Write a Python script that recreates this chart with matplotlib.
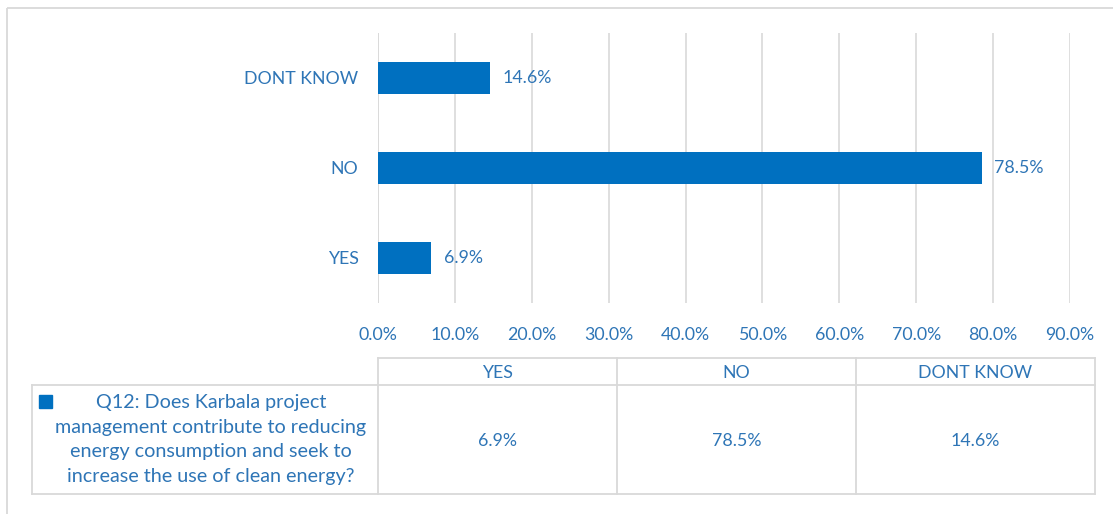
import matplotlib
matplotlib.use("Agg")
import matplotlib.pyplot as plt
from matplotlib.patches import Rectangle

categories = ["YES", "NO", "DONT KNOW"]
values = [0.069, 0.785, 0.146]
xticks = [0.0, 0.1, 0.2, 0.3, 0.4, 0.5, 0.6, 0.7, 0.8, 0.9]
series_name = ("Q12: Does Karbala project\nmanagement contribute to reducing\n"
               "energy consumption and seek to\nincrease the use of clean energy?")

BAR = "#0070C0"
TXT = "#2E75B6"
GRID = "#D9D9D9"
FONT = "Lato"
FS = 12.8

W, H = 1113, 514
fig = plt.figure(figsize=(W / 100, H / 100), dpi=100)

# overlay in pixel coordinates for the frame and data table
ov = fig.add_axes([0, 0, 1, 1])
ov.set_xlim(0, W)
ov.set_ylim(H, 0)
ov.axis("off")
ov.add_patch(Rectangle((7, 8), W + 20, H + 20, fill=False, ec=GRID, lw=1.3))

x0, x1, ytop, ybot = 378, 1070, 33, 303
ax = fig.add_axes([x0 / W, 1 - ybot / H, (x1 - x0) / W, (ybot - ytop) / H])
ax.set_zorder(2)
ax.patch.set_alpha(0)
ax.barh(range(len(categories)), values, height=0.36, color=BAR, zorder=3)
ax.set_xlim(0, 0.9)
ax.set_ylim(-0.5, len(categories) - 0.5)
ax.set_xticks(xticks)
ax.set_xticklabels([f"{t*100:.1f}%" for t in xticks], fontsize=FS, color=TXT, family=FONT)
ax.set_yticks(range(len(categories)))
ax.set_yticklabels(categories, fontsize=FS, color=TXT, family=FONT)
ax.tick_params(axis="both", length=0)
ax.tick_params(axis="y", pad=14)
ax.tick_params(axis="x", pad=17)
ax.grid(axis="x", color=GRID, lw=1.2, zorder=0)
for s in ax.spines.values():
    s.set_visible(False)
ax.axvline(0, color=GRID, lw=1.2, zorder=1)
for i, v in enumerate(values):
    ax.annotate(f"{v*100:.1f}%", (v, i), xytext=(9, 0), textcoords="offset points",
                va="center", ha="left", fontsize=FS, color=TXT, family=FONT)

# data table
tx0, tx1 = 378, 1095
hy0, hy1, ry1 = 358, 385, 494
lx0 = 32
colw = (tx1 - tx0) / len(categories)
lw = 1.3
ov.plot([tx0, tx1], [hy0, hy0], color=GRID, lw=lw)
ov.plot([lx0, tx1], [hy1, hy1], color=GRID, lw=lw)
ov.plot([lx0, tx1], [ry1, ry1], color=GRID, lw=lw)
ov.plot([lx0, lx0], [hy1, ry1], color=GRID, lw=lw)
for k in range(len(categories) + 1):
    ov.plot([tx0 + k * colw] * 2, [hy0, ry1], color=GRID, lw=lw)
for k, name in enumerate(categories):
    cx = tx0 + (k + 0.5) * colw
    ov.text(cx, (hy0 + hy1) / 2 + 1, name, ha="center", va="center",
            fontsize=FS, color=TXT, family=FONT)
    ov.text(cx, (hy1 + ry1) / 2 + 1, f"{values[k]*100:.1f}%", ha="center", va="center",
            fontsize=FS, color=TXT, family=FONT)
ov.add_patch(Rectangle((39, 395), 13, 13, color=BAR))
ov.text(211, (hy1 + ry1) / 2, series_name, ha="center", va="center", fontsize=14.2,
        color=TXT, family=FONT, linespacing=1.55)

fig.savefig("out.png", dpi=100)
